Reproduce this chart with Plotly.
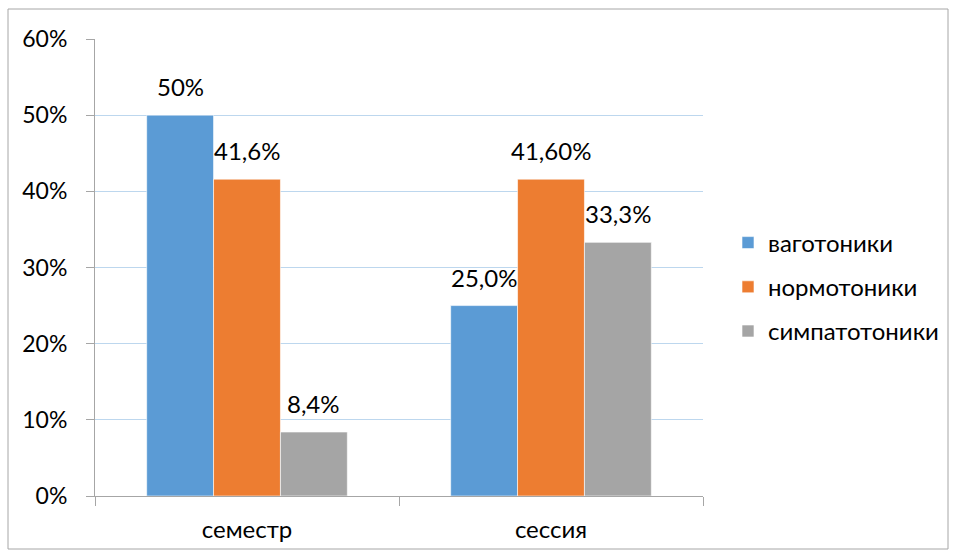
import plotly.graph_objects as go

categories = ["семестр", "сессия"]
series_names = ["ваготоники", "нормотоники", "симпатотоники"]
series_colors = ["#5B9BD5", "#ED7D31", "#A5A5A5"]
values = [
    [0.50, 0.25],
    [0.416, 0.416],
    [0.084, 0.333],
]
value_labels = [
    ["50%", "25,0%"],
    ["41,6%", "41,60%"],
    ["8,4%", "33,3%"],
]
y_ticks = [0, 0.1, 0.2, 0.3, 0.4, 0.5, 0.6]

FONT = "Lato"
FS = 24
bargap = 0.34

fig = go.Figure()
for i, name in enumerate(series_names):
    fig.add_trace(go.Bar(
        x=categories, y=values[i], name=name,
        marker=dict(color=series_colors[i], line=dict(color="white", width=0.6)),
        legendgroup=name,
    ))

# value labels centred over each bar of the group
n = len(series_names)
bar_w = (1 - bargap) / n
for i in range(n):
    off = (i - (n - 1) / 2) * bar_w
    for j, cat in enumerate(categories):
        fig.add_annotation(
            x=j + off, y=values[i][j], xref="x", yref="y",
            text=value_labels[i][j], showarrow=False,
            yanchor="bottom", yshift=12,
            font=dict(family=FONT, size=FS, color="#000000"),
        )

W, H = 956, 557
ml, mr, mt, mb = 95, 253, 39, 61
pw, ph = W - ml - mr, H - mt - mb
# outer chart frame
fig.add_shape(
    type="rect", xref="paper", yref="paper",
    x0=(8 - ml) / pw, x1=(948 - ml) / pw,
    y0=-(549 - (H - mb)) / ph, y1=1 + (mt - 9) / ph,
    line=dict(color="#A6A6A6", width=1), fillcolor="rgba(0,0,0,0)", layer="below",
)

fig.update_layout(
    width=W, height=H,
    margin=dict(l=ml, r=mr, t=mt, b=mb, autoexpand=False),
    barmode="group", bargap=bargap, bargroupgap=0,
    plot_bgcolor="white", paper_bgcolor="white",
    font=dict(family=FONT, size=FS, color="#000000"),
    showlegend=True,
    legend=dict(
        x=1 + (728 - (W - mr)) / pw, xanchor="left",
        y=(H - mb - 287) / ph, yanchor="middle",
        traceorder="grouped", tracegroupgap=10,
        bgcolor="rgba(0,0,0,0)",
        font=dict(family=FONT, size=FS, color="#000000"),
        itemwidth=30,
    ),
    xaxis=dict(
        type="category", showline=True, linecolor="#A6A6A6", linewidth=1,
        ticks="outside", tickson="boundaries", ticklen=9, tickcolor="#A6A6A6",
        showgrid=False, tickfont=dict(size=FS), ticklabelstandoff=12,
    ),
    yaxis=dict(
        range=[0, 0.6], tickvals=y_ticks, tickformat=".0%",
        showline=True, linecolor="#A6A6A6", linewidth=1,
        ticks="outside", ticklen=8, tickcolor="#A6A6A6",
        showgrid=True, gridcolor="#BDD7EE", gridwidth=1,
        zeroline=False, tickfont=dict(size=23), ticklabelstandoff=14,
    ),
)

fig.write_html("out.html")
